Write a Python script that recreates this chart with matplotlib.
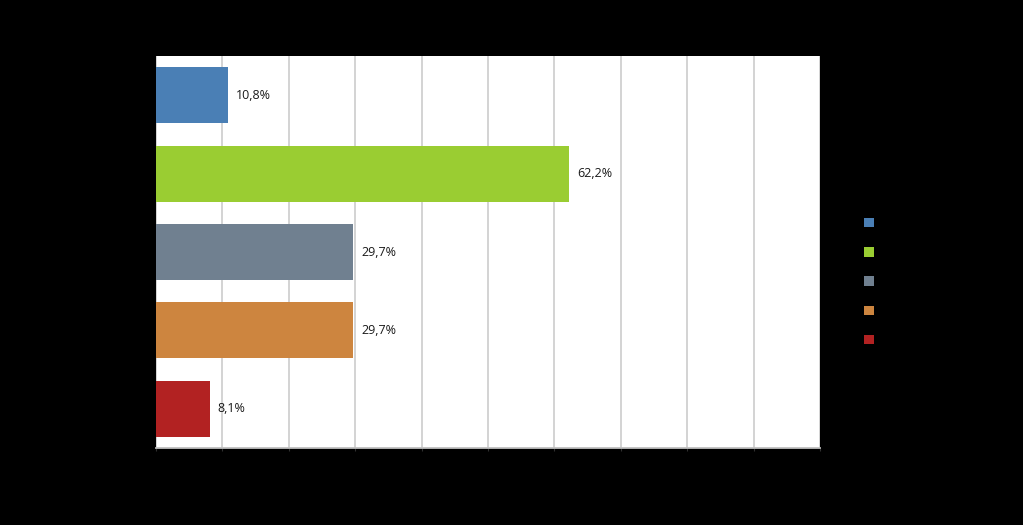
import matplotlib
matplotlib.use("Agg")
import matplotlib.pyplot as plt
from matplotlib.patches import Patch

categories = ["Categoria 1", "Categoria 2", "Categoria 3", "Categoria 4", "Categoria 5"]
values = [10.8, 62.2, 29.7, 29.7, 8.1]
value_labels = ["10,8%", "62,2%", "29,7%", "29,7%", "8,1%"]
colors = ["#4a7fb5", "#9acd32", "#708090", "#cd853f", "#b22222"]
x_ticks = [0, 10, 20, 30, 40, 50, 60, 70, 80, 90, 100]
x_tick_labels = ["0%", "10%", "20%", "30%", "40%", "50%", "60%", "70%", "80%", "90%", "100%"]

plt.rcParams['font.family'] = ['Open Sans', 'DejaVu Sans']

fig = plt.figure(figsize=(10.23, 5.25), dpi=100, facecolor="black")
ax = fig.add_axes([156/1023, 77/525, 664/1023, 392/525])
ax.set_facecolor("white")

ypos = list(range(len(categories)))
bars = ax.barh(ypos, values, height=0.715, color=colors, zorder=3)
ax.set_ylim(len(categories) - 0.5, -0.5)
ax.set_xlim(0, 100)
ax.set_xticks(x_ticks)
ax.set_xticklabels(x_tick_labels, color="black", fontsize=9)
ax.set_yticks(ypos)
ax.set_yticklabels(categories, color="black", fontsize=9)
ax.tick_params(axis="y", length=0)
ax.tick_params(axis="x", length=2, color="#303030")
ax.grid(axis="x", color="#d0d0d0", linewidth=1.3, zorder=0)
for s in ["top", "right", "left"]:
    ax.spines[s].set_visible(False)
ax.spines["bottom"].set_color("#bfbfbf")
ax.spines["bottom"].set_linewidth(1.3)

for y, v, lab in zip(ypos, values, value_labels):
    ax.text(v + 1.2, y, lab, va="center", ha="left", fontsize=9, color="#1a1a1a", zorder=4)

handles = [Patch(facecolor=c, edgecolor="none", label=n) for c, n in zip(colors, categories)]
leg = fig.legend(handles=handles, loc="center left", bbox_to_anchor=(853/1023, 1 - 282/525),
                 frameon=False, handlelength=0.8, handleheight=0.8, labelspacing=1.3,
                 fontsize=9, labelcolor="black", handletextpad=0.6)

fig.savefig("out.png", dpi=100, facecolor="black")
